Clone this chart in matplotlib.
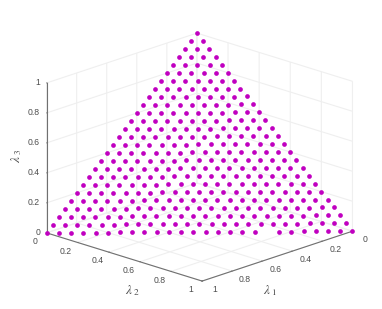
import matplotlib
matplotlib.use("Agg")
import matplotlib.pyplot as plt
from matplotlib.text import Text

lambda3_levels = [0, 4, 8, 12, 16, 20, 24, 28, 32, 36, 40, 44, 48, 52, 56, 60, 64, 68, 72, 76, 80, 84, 88, 92, 96, 100]
lambda2_rows = [
    [0,4,8,12,16,20,24,28,32,36,40,44,48,52,56,60,64,68,76,80,84,88,92,96,100],
    [0,4,8,12,16,20,24,28,32,36,40,44,48,52,56,60,64,68,72,76,80,84,88,92,96],
    [0,4,8,12,16,20,24,28,32,36,40,44,48,52,56,60,64,68,72,76,80,84,88,92],
    [0,4,8,12,16,20,24,28,32,36,40,44,48,52,56,60,64,68,72,76,80,84,88],
    [0,4,8,12,16,20,24,28,32,36,40,44,48,52,56,60,64,68,72,76,80,84],
    [0,4,8,12,16,20,24,28,32,36,40,44,48,52,56,60,64,68,72,76,80],
    [0,4,8,12,16,20,24,28,32,36,40,44,48,52,56,60,64,68,72,76],
    [0,4,8,12,16,20,24,28,32,36,40,44,48,52,56,60,64,68,72],
    [0,4,8,12,16,20,24,28,32,36,40,44,48,52,56,60,64,68],
    [0,4,8,12,16,20,24,28,32,36,40,44,48,52,56,60,64],
    [0,4,8,12,16,20,24,28,32,36,40,44,48,52,56,60],
    [0,4,8,12,16,20,24,28,32,36,40,44,48,52,56],
    [0,4,8,12,16,20,24,28,32,36,40,44,48,52],
    [0,4,8,12,16,20,24,28,32,36,40,44,48],
    [0,4,8,12,16,20,24,28,32,36,40,44],
    [0,4,8,12,16,20,24,28,32,36,40],
    [0,4,8,12,16,20,24,28,32,36],
    [0,4,8,12,16,20,24,28,32],
    [0,4,8,12,16,20,24,28],
    [0,4,8,12,16,20,24],
    [0,4,8,12,16,20],
    [0,4,8,12,16],
    [0,4,8,12],
    [0,4,8],
    [0,4],
    [0],
]
tick_values = [0, 0.2, 0.4, 0.6, 0.8, 1]
tick_labels = ["0", "0.2", "0.4", "0.6", "0.8", "1"]

plt.rcParams["font.family"] = ["Liberation Sans", "DejaVu Sans"]
plt.rcParams["mathtext.fontset"] = "stix"

TXT = "#4d4d4d"
AX = "#707070"
GRID = "#efefef"

l1, l2, l3 = [], [], []
for lev, row in zip(lambda3_levels, lambda2_rows):
    for v in row:
        l1.append((100 - lev - v) / 100)
        l2.append(v / 100)
        l3.append(lev / 100)

fig = plt.figure(figsize=(3.82, 3.09), dpi=100)
ax = fig.add_axes([50.6 / 382, 3 / 309, 290 / 382, 290 / 309], projection="3d", proj_type="ortho")
ax.set_box_aspect((216.4, 216.4, 158.3), zoom=1.153)
ax.view_init(elev=18.7, azim=44.03)
ax.set_xlim(0, 1)
ax.set_ylim(0, 1)
ax.set_zlim(0, 1)
ax.patch.set_alpha(0)

ax.scatter(l1, l2, l3, s=11.5, c="#c000c0", depthshade=False, linewidths=0, clip_on=False)

for axis in (ax.xaxis, ax.yaxis, ax.zaxis):
    axis.set_ticks(tick_values)
    axis.set_ticklabels(tick_labels)
    axis.set_pane_color((1, 1, 1, 0))
    axis.pane.set_edgecolor((1, 1, 1, 0))
    axis.line.set_color(AX)
    axis.line.set_linewidth(0.8)
    axis._axinfo["grid"].update(color=GRID, linewidth=0.8)
    axis._axinfo["tick"].update(inward_factor=0.0, outward_factor=0.04,
                                linewidth={True: 0.6, False: 0.5})
    axis.set_rotate_label(False)
ax.tick_params(axis="both", labelsize=6.2, labelcolor=TXT, color=AX, pad=0)
ax.tick_params(axis="z", labelsize=6.2, labelcolor=TXT, color=AX, pad=0)

ax.set_xlabel(r"$\lambda_{\ 1}$", fontsize=9.5, color=TXT, labelpad=0)
ax.set_ylabel(r"$\lambda_{\ 2}$", fontsize=9.5, color=TXT, labelpad=0)
ax.set_zlabel(r"$\lambda_{\ 3}$", fontsize=9.5, color=TXT, labelpad=0, rotation=90)

PX = 0.185 / 290  # projected 3D units per screen pixel


def nudge(artist, dx_px, dy_px):
    """Shift a label by screen pixels (y downwards) from where mplot3d puts it."""
    def set_position(xy):
        Text.set_position(artist, (xy[0] + dx_px * PX, xy[1] - dy_px * PX))
    artist.set_position = set_position


for axis, ha, dx, dy in ((ax.xaxis, "center", 1.5, -6.5), (ax.yaxis, "center", -0.5, -6), (ax.zaxis, "right", 16, -0.5)):
    for tick in axis.get_major_ticks():
        tick.label1.set_ha(ha)
        tick.label1.set_va("center")
        nudge(tick.label1, dx, dy)

nudge(ax.xaxis.label, -37, -4)
nudge(ax.yaxis.label, 37, -4.5)
nudge(ax.zaxis.label, 29.5, -2)

fig.savefig("out.png", dpi=100)
